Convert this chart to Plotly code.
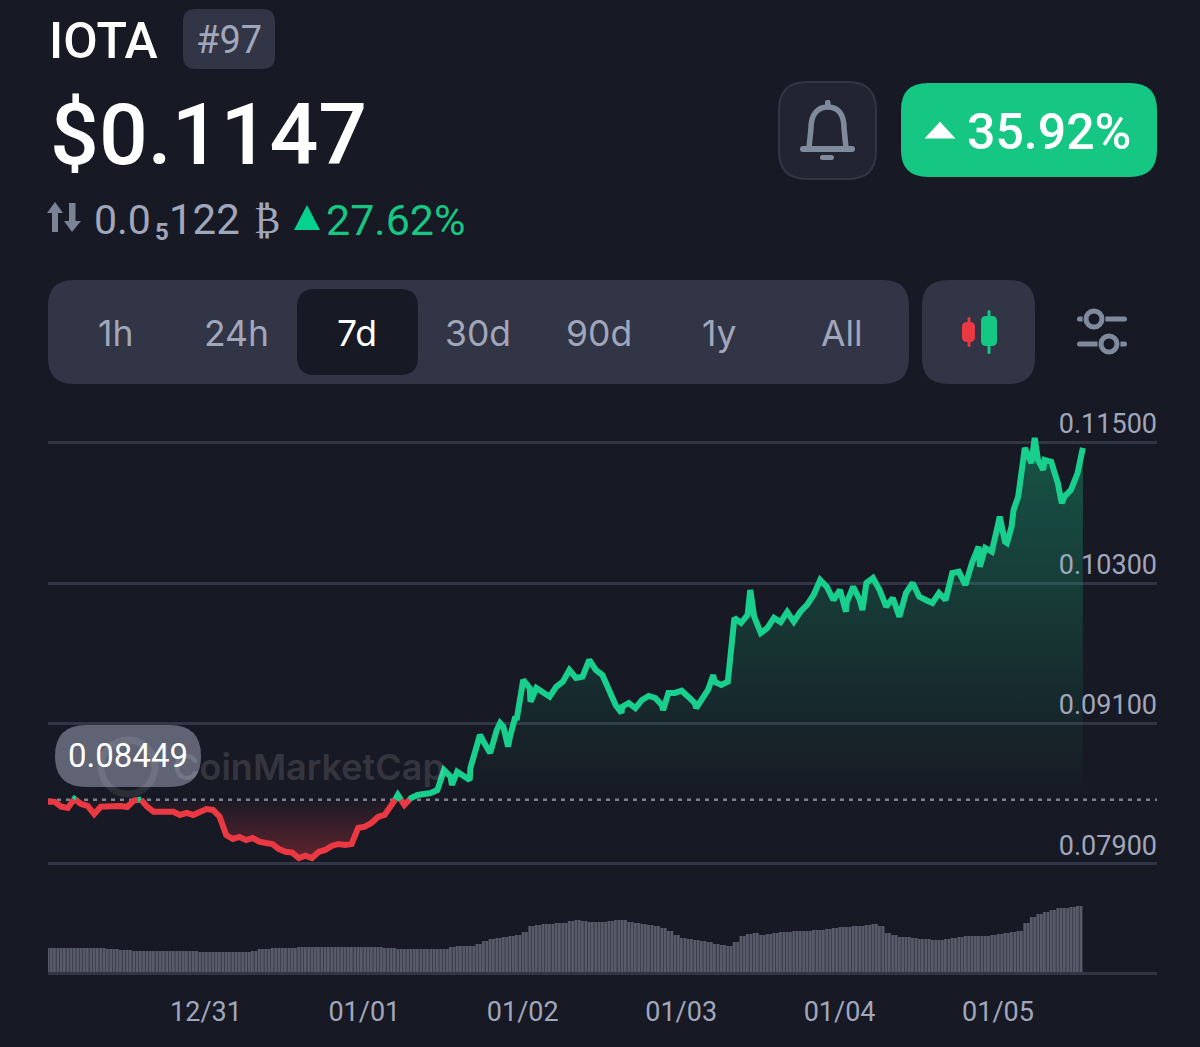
import numpy as np
import pandas as pd
import plotly.graph_objects as go

W = 1200
H = 1047
BG = "#171924"
PANEL = "#323546"
GREY = "#a1a7bb"
ICON = "#808a9d"
GREEN = "#16c784"
LINE_GREEN = "#19cf8d"
RED = "#ea3943"

price = [
    0.08432, 0.08432, 0.08390, 0.08379, 0.08456, 0.08413, 0.08396, 0.08327, 0.08390, 0.08396,
    0.08396, 0.08396, 0.08387, 0.08441, 0.08456, 0.08390, 0.08347, 0.08344, 0.08338, 0.08347,
    0.08319, 0.08336, 0.08319, 0.08344, 0.08370, 0.08362, 0.08304, 0.08148, 0.08114, 0.08131,
    0.08105, 0.08122, 0.08091, 0.08079, 0.08071, 0.08028, 0.08005, 0.07997, 0.07951, 0.07971,
    0.07951, 0.08003, 0.08020, 0.08054, 0.08071, 0.08062, 0.08071, 0.08208, 0.08219, 0.08250,
    0.08302, 0.08319, 0.08390, 0.08490, 0.08404, 0.08464, 0.08490, 0.08498, 0.08507, 0.08532,
    0.08703, 0.08646, 0.08689, 0.08646, 0.08721, 0.08934, 0.08945, 0.08849, 0.09045, 0.09074,
    0.08988, 0.09131, 0.09473, 0.09404, 0.09404, 0.09373, 0.09330, 0.09415, 0.09458, 0.09558,
    0.09490, 0.09501, 0.09644, 0.09558, 0.09515, 0.09387, 0.09259, 0.09244, 0.09276, 0.09233,
    0.09302, 0.09336, 0.09319, 0.09259, 0.09362, 0.09362, 0.09381, 0.09330, 0.09276, 0.09302,
    0.09387, 0.09458, 0.09430, 0.09458, 0.10003, 0.09960, 0.10028, 0.10242, 0.10014, 0.09874,
    0.09917, 0.10003, 0.09968, 0.10054, 0.09971, 0.10056, 0.10114, 0.10199, 0.10327, 0.10270,
    0.10156, 0.10242, 0.10131, 0.10270, 0.10156, 0.10302, 0.10344, 0.10242, 0.10099, 0.10174,
    0.10014, 0.10216, 0.10302, 0.10185, 0.10156, 0.10131, 0.10216, 0.10156, 0.10387, 0.10398,
    0.10285, 0.10473, 0.10612, 0.10601, 0.10569, 0.10815, 0.10655, 0.10783, 0.11039, 0.11456,
    0.11327, 0.11541, 0.11353, 0.11353, 0.11338, 0.11156, 0.10985, 0.11039, 0.11097, 0.11242,
    0.11456,
]
# hour of each price sample, counted from the first one
hours = sorted(list(range(156)) + [106.4, 149.5, 153.6, 156, 156.8])
hours = hours[:len(price)]

# short spikes between the hourly samples
spike_hours = [61.2, 63.9, 65.45, 68.5, 69.7, 70.8, 73.1, 86.9, 93.2, 98.2, 100.8,
               120.9, 123.4, 141.2, 144.2, 145.3, 146.3, 150.8]
spike_price = [0.08575, 0.08618, 0.09003, 0.09105, 0.08903, 0.09159, 0.09287, 0.09191, 0.09216,
               0.09233, 0.09515, 0.10056, 0.10071, 0.10441, 0.10868, 0.10644, 0.10926, 0.11268]

# volume, relative height of the bars
volume = [
    24, 24, 24, 24, 24, 24, 24, 24, 24, 23, 23, 22, 22, 21, 21, 21, 21,
    21, 21, 21, 21, 21, 21, 20, 20, 20, 20, 20, 20, 20, 20,
    21, 23, 23, 24, 24, 24, 24,
    25, 25, 25, 25, 25, 25, 25, 25, 25, 25, 25, 25, 25,
    24, 24, 23, 23, 23,
    23, 23, 23, 23, 23, 25, 26, 26, 26, 28,
    31, 33, 34, 35, 36, 37, 40, 46, 47, 48, 48, 49, 49, 51, 52, 51, 50, 50, 50, 51, 52, 52,
    50, 49, 48, 47, 46, 44, 41, 37, 34, 33, 32, 31, 30, 28, 27, 26, 30, 36, 38, 39, 37, 38,
    39, 40, 40, 41, 41, 41, 42, 42, 43, 44, 45, 45, 46, 46, 47, 48, 46, 39, 37, 35, 35, 34,
    33, 33, 32, 32, 33, 34, 35, 36, 36, 36, 36, 37, 38, 39, 40, 41, 49, 55, 58, 60, 62, 64,
    64, 65, 66,
]

base_price = 0.08449
price_ticks = [0.079, 0.091, 0.103, 0.115]
date_ticks = ["2022-12-31", "2023-01-01", "2023-01-02", "2023-01-03", "2023-01-04", "2023-01-05"]
range_labels = ["1h", "24h", "7d", "30d", "90d", "1y", "All"]
range_centers = [115, 236, 357, 478, 599, 719, 842]

start = pd.Timestamp("2022-12-30 00:04")


def to_time(h):
    return start + pd.to_timedelta(np.asarray(h, dtype=float), unit="h")


def px(x):
    return x / W


def py(y):
    return 1 - y / H


samples = sorted(zip(hours + spike_hours, price + spike_price))

# add the points where the line crosses the base price so the colours meet
t = []
p = []
for i, (h, v) in enumerate(samples):
    if i > 0 and (samples[i - 1][1] - base_price) * (v - base_price) < 0:
        h0, v0 = samples[i - 1]
        t.append(h0 + (base_price - v0) / (v - v0) * (h - h0))
        p.append(base_price)
    t.append(h)
    p.append(v)
t = np.array(t)
p = np.array(p)
times = to_time(t)

fig = go.Figure()

# fills between the line and the base price
fig.add_trace(go.Scatter(x=times, y=[base_price] * len(p), mode="lines", line=dict(width=0), yaxis="y"))
fig.add_trace(go.Scatter(
    x=times, y=np.maximum(p, base_price), mode="lines", line=dict(width=0), fill="tonexty",
    fillgradient=dict(type="vertical", start=0.115, stop=base_price,
                      colorscale=[[0, "rgba(22,199,132,0.34)"], [1, "rgba(22,199,132,0.0)"]]),
))
fig.add_trace(go.Scatter(x=times, y=[base_price] * len(p), mode="lines", line=dict(width=0)))
fig.add_trace(go.Scatter(
    x=times, y=np.minimum(p, base_price), mode="lines", line=dict(width=0), fill="tonexty",
    fillgradient=dict(type="vertical", start=0.0795, stop=base_price,
                      colorscale=[[0, "rgba(234,57,67,0.34)"], [1, "rgba(234,57,67,0.02)"]]),
))

# the line itself
fig.add_trace(go.Scatter(x=times, y=np.where(p >= base_price, p, np.nan), mode="lines",
                         line=dict(color=LINE_GREEN, width=6)))
fig.add_trace(go.Scatter(x=times, y=np.where(p <= base_price, p, np.nan), mode="lines",
                         line=dict(color=RED, width=6)))

# volume: wide flat bars with thin lighter ones on top
vol_hours = np.arange(len(volume) * 2) * 0.5
half_hour_ms = 1800000
fig.add_trace(go.Bar(x=to_time(vol_hours), y=np.repeat(volume, 2), yaxis="y2", width=half_hour_ms,
                     marker=dict(color="#494d5b", line=dict(width=0))))
fig.add_trace(go.Bar(x=to_time(vol_hours), y=np.repeat(volume, 2), yaxis="y2", width=half_hour_ms * 0.4,
                     marker=dict(color="#565a69", line=dict(width=0))))

shapes = []


def round_rect(x0, y0, x1, y1, r):
    pts = [
        f"M {px(x0 + r)} {py(y0)}", f"L {px(x1 - r)} {py(y0)}",
        f"Q {px(x1)} {py(y0)} {px(x1)} {py(y0 + r)}", f"L {px(x1)} {py(y1 - r)}",
        f"Q {px(x1)} {py(y1)} {px(x1 - r)} {py(y1)}", f"L {px(x0 + r)} {py(y1)}",
        f"Q {px(x0)} {py(y1)} {px(x0)} {py(y1 - r)}", f"L {px(x0)} {py(y0 + r)}",
        f"Q {px(x0)} {py(y0)} {px(x0 + r)} {py(y0)}", "Z",
    ]
    return " ".join(pts)


def box(x0, y0, x1, y1, r, fill, line=None, lw=0, layer="below"):
    shapes.append(dict(type="path", xref="paper", yref="paper", path=round_rect(x0, y0, x1, y1, r),
                       fillcolor=fill, line=dict(color=line or fill, width=lw), layer=layer))


def poly(points, fill=None, color=None, lw=0, close=True):
    d = " ".join(("M" if i == 0 else "L") + f" {px(a)} {py(b)}" for i, (a, b) in enumerate(points))
    shapes.append(dict(type="path", xref="paper", yref="paper", path=d + (" Z" if close else ""),
                       fillcolor=fill or "rgba(0,0,0,0)", line=dict(color=color or "rgba(0,0,0,0)", width=lw)))


def ring(cx, cy, r, color, fill, lw):
    shapes.append(dict(type="circle", xref="paper", yref="paper", x0=px(cx - r), x1=px(cx + r),
                       y0=py(cy + r), y1=py(cy - r), fillcolor=fill, line=dict(color=color, width=lw)))


# header boxes
box(183, 9, 275, 69, 13, PANEL)
box(779, 82, 876, 179, 28, "#222531", PANEL, 2)
box(901, 83, 1157, 177, 27, GREEN)
box(48, 280, 909, 384, 26, PANEL)
box(297, 289, 418, 375, 18, BG)
box(922, 280, 1035, 384, 26, PANEL)

# bell
d = (f"M {px(809)} {py(148)} L {px(811)} {py(128)} "
     f"C {px(811)} {py(114)} {px(818)} {py(107)} {px(827.7)} {py(107)} "
     f"C {px(838)} {py(107)} {px(844)} {py(114)} {px(844)} {py(128)} L {px(846)} {py(148)}")
shapes.append(dict(type="path", xref="paper", yref="paper", path=d, line=dict(color=ICON, width=5.5)))
box(800, 146, 855, 152, 3, ICON)
box(825, 100, 830.5, 108, 2, ICON)
box(820, 155, 834, 160, 2.5, ICON)

# small triangles and the price direction arrows
poly([(928, 137), (952, 137), (940, 124)], fill="white", color="white", lw=3)
poly([(294, 230), (320, 230), (307, 205)], fill="#05d28f")
poly([(55, 202), (63, 213), (58, 213), (58, 232), (52, 232), (52, 213), (47, 213)], fill="#7a8496")
poly([(72, 232), (81, 221), (75.5, 221), (75.5, 203), (69, 203), (69, 221), (64, 221)], fill="#7a8496")

# candle icon
box(967.5, 317, 970.5, 347, 1.5, RED)
box(962, 322, 975, 342, 5, RED)
box(987.5, 310, 990.5, 354, 1.5, GREEN)
box(981, 316, 997, 346, 5, GREEN)

# filter icon
box(1077, 316.5, 1127, 321.5, 2.5, ICON)
box(1077, 341.5, 1127, 346.5, 2.5, ICON)
ring(1094, 319, 8.5, BG, BG, 6)
ring(1109, 344, 8.5, BG, BG, 6)
ring(1094, 319, 8, ICON, BG, 5)
ring(1109, 344, 8, ICON, BG, 5)

# tooltip pill and faded logo
box(55, 725, 201, 787, 31, "#5f6374")
ring(128, 767, 27, "rgba(255,255,255,0.09)", "rgba(0,0,0,0)", 7)

# dotted base price
shapes.append(dict(type="line", xref="paper", yref="y", x0=px(48), x1=px(1157), y0=base_price, y1=base_price,
                   line=dict(color="#7d818e", width=2.5, dash="4px,5px"), layer="below"))


annotations = []


def txt(x, y, text, size, color, anchor="left", weight=400, family="Roboto"):
    annotations.append(dict(xref="paper", yref="paper", x=px(x), y=py(y), text=text, showarrow=False,
                            xanchor=anchor, yanchor="middle", borderpad=0,
                            font=dict(family=family, size=size, color=color, weight=weight)))


txt(47.5, 41, "IOTA", 50, "white", weight=500)
txt(229, 40, "#97", 38, GREY, "center")
txt(48.5, 135, "$0.1147", 86, "white", weight=500)
txt(93, 220, "0.0", 41, GREY)
txt(154, 232, "5", 24, GREY, weight=700)
txt(168, 220, "122", 42, GREY)
txt(267, 220, "₿", 38, GREY, "center")
txt(325, 220, "27.62%", 43, GREEN)
txt(966, 132, "35.92%", 50, "white", weight=500)
for label, center in zip(range_labels, range_centers):
    txt(center, 333, label, 35.5, "white" if label == "7d" else GREY, "center", family="Inter")
txt(128, 755, f"{base_price:.5f}", 33, "white", "center")
txt(172, 767, "CoinMarketCap", 36, "rgba(255,255,255,0.14)", weight=600, family="Inter")

fig.update_layout(
    width=W,
    height=H,
    margin=dict(l=0, r=0, t=0, b=0),
    paper_bgcolor=BG,
    plot_bgcolor=BG,
    showlegend=False,
    hovermode=False,
    barmode="overlay",
    shapes=shapes,
    annotations=annotations,
    xaxis=dict(
        domain=[px(48), px(1157)],
        anchor="y2",
        range=[start, start + pd.Timedelta(hours=168.03)],
        type="date",
        tickvals=date_ticks,
        tickformat="%m/%d",
        ticks="outside",
        ticklen=14,
        tickcolor="rgba(0,0,0,0)",
        tickfont=dict(family="Roboto", size=27, color=GREY),
        showgrid=False,
        showline=True,
        linecolor=PANEL,
        linewidth=3,
        zeroline=False,
    ),
    yaxis=dict(
        domain=[py(880), py(400)],
        anchor="x",
        side="right",
        range=[0.077632, 0.118658],
        tickvals=price_ticks,
        ticktext=[f"{v:.5f}" for v in price_ticks],
        ticklabelposition="inside top",
        ticklabelstandoff=-3,
        tickfont=dict(family="Roboto", size=27, color=GREY),
        showgrid=True,
        gridcolor=PANEL,
        gridwidth=3,
        zeroline=False,
        showline=False,
    ),
    yaxis2=dict(
        domain=[py(972), py(892)],
        anchor="x",
        range=[0, 80],
        visible=False,
    ),
)

fig.write_html(
    "out.html",
    config=dict(displayModeBar=False),
    post_script="document.body.style.margin='0';document.body.style.background='#171924';"
                "document.documentElement.style.overflow='hidden';",
)
